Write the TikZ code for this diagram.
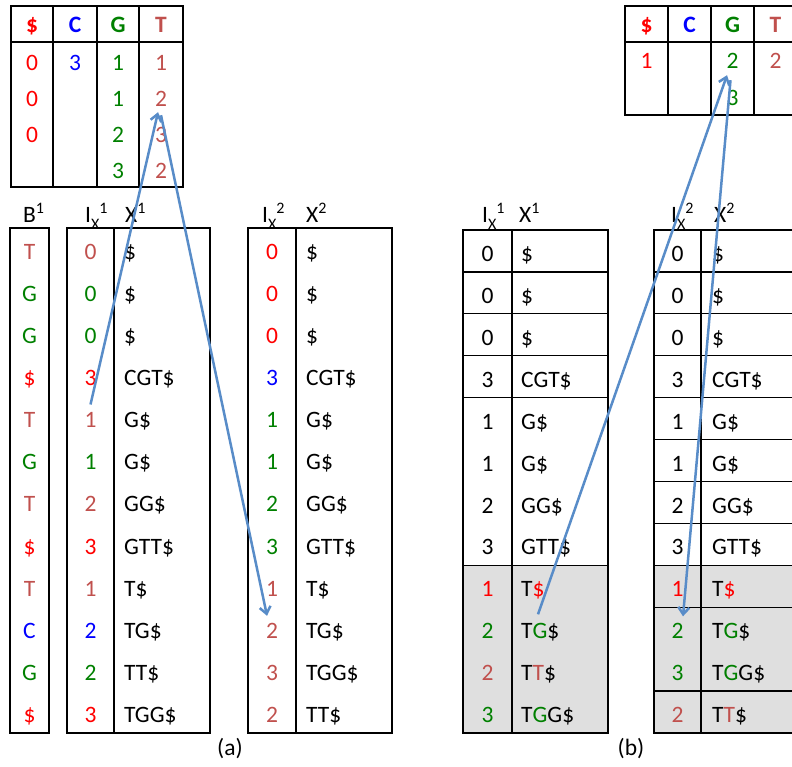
\documentclass[tikz,border=0pt]{standalone}
\usepackage{fontspec}
\setmainfont{Carlito}
\newfontfamily\cellfont{Carlito}
\usetikzlibrary{arrows.meta,calc}
\definecolor{cR}{RGB}{255,0,0}
\definecolor{cB}{RGB}{0,0,255}
\definecolor{cG}{RGB}{0,128,0}
\definecolor{cT}{RGB}{192,80,77}
\definecolor{arrowblue}{RGB}{88,140,200}
\definecolor{cellgray}{RGB}{223,223,223}
\newcommand{\smallpart}[1]{{\fontsize{16pt}{16pt}\selectfont #1}}
\newcommand{\lblIX}[1]{I\raisebox{-0.28em}{\smallpart{X}}\raisebox{0.42em}{\smallpart{#1}}}
\newcommand{\lblsup}[2]{#1\raisebox{0.42em}{\smallpart{#2}}}
\begin{document}
\begin{tikzpicture}[x=1pt,y=-1pt,
  cell/.style={anchor=base,inner sep=0pt,font=\cellfont\fontsize{23.5pt}{28pt}\selectfont},
  lcell/.style={cell,anchor=base west},
  hdr/.style={cell,font=\cellfont\fontsize{23.5pt}{28pt}\selectfont\bfseries},
  frame/.style={draw=black,line width=1.3pt},
  arr/.style={draw=arrowblue,line width=2.5pt,-{Straight Barb[length=7pt,width=11pt]}},
]
\useasboundingbox (0,0) rectangle (792,767);

% ---------- top-left count table ----------
\draw[frame] (11,6) rectangle (183,187);
\draw[frame] (11,42) -- (183,42);
\draw[frame] (53,6) -- (53,187) (97,6) -- (97,187) (139,6) -- (139,187);
\node[hdr,text=cR] (tlHd) at (32,33) {\$};
\node[hdr,text=cB] (tlHc) at (75,33) {C};
\node[hdr,text=cG] (tlHg) at (118,33) {G};
\node[hdr,text=cT] (tlHt) at (161,33) {T};
\foreach \v [count=\i] in {0,0,0} \node[cell,text=cR] (tlD\i) at (32,{35+36*\i}) {\v};
\node[cell,text=cB] (tlC1) at (75,71) {3};
\foreach \v [count=\i] in {1,1,2,3} \node[cell,text=cG] (tlG\i) at (118,{35+36*\i}) {\v};
\foreach \v [count=\i] in {1,2,3,2} \node[cell,text=cT] (tlT\i) at (161,{35+36*\i}) {\v};

% ---------- top-right count table ----------
\draw[frame] (800,6) -- (625,6) -- (625,115) -- (800,115);
\draw[frame] (625,42) -- (800,42);
\draw[frame] (668,6) -- (668,115) (711,6) -- (711,115) (754,6) -- (754,115);
\node[hdr,text=cR] (trHd) at (646.5,33) {\$};
\node[hdr,text=cB] (trHc) at (689.5,33) {C};
\node[hdr,text=cG] (trHg) at (732.5,33) {G};
\node[hdr,text=cT] (trHt) at (775.5,33) {T};
\node[cell,text=cR] (trD1) at (646.5,69) {1};
\node[cell,text=cG] (trG1) at (732.5,69) {2};
\node[cell,text=cG] (trG2) at (732.5,106) {3};
\node[cell,text=cT] (trT1) at (775.5,69) {2};

% ---------- (a) ----------
\node[lcell] (aLB) at (23,223) {\lblsup{B}{1}};
\node[lcell] (aLI1) at (85,223) {\lblIX{1}};
\node[lcell] (aLX1) at (125,223) {\lblsup{X}{1}};
\node[lcell] (aLI2) at (262,223) {\lblIX{2}};
\node[lcell] (aLX2) at (306,223) {\lblsup{X}{2}};

\draw[frame] (10,228) rectangle (49,733);
\draw[frame] (67,228) rectangle (210,733);
\draw[frame] (114,228) -- (114,733);
\draw[frame] (248,228) rectangle (392,733);
\draw[frame] (296,228) -- (296,733);

\foreach \b/\d/\c/\x [count=\i from 0] in
  {T/0/cT/\$, G/0/cG/\$, G/0/cG/\$, \$/3/cR/CGT\$, T/1/cT/G\$, G/1/cG/G\$,
   T/2/cT/GG\$, \$/3/cR/GTT\$, T/1/cT/T\$, C/2/cB/TG\$, G/2/cG/TT\$, \$/3/cR/TGG\$}
{
  \node[cell,text=\c] (aB\i) at (29.5,{228+42.08*\i+31.5}) {\b};
  \node[cell,text=\c] (aI\i) at (90.5,{228+42.08*\i+31.5}) {\d};
  \node[lcell] (aX\i) at (124,{228+42.08*\i+31.5}) {\x};
}
\foreach \d/\c/\x [count=\i from 0] in
  {0/cR/\$, 0/cR/\$, 0/cR/\$, 3/cB/CGT\$, 1/cG/G\$, 1/cG/G\$,
   2/cG/GG\$, 3/cG/GTT\$, 1/cT/T\$, 2/cT/TG\$, 3/cT/TGG\$, 2/cT/TT\$}
{
  \node[cell,text=\c] (aJ\i) at (272,{228+42.08*\i+31.5}) {\d};
  \node[lcell] (aY\i) at (306,{228+42.08*\i+31.5}) {\x};
}
\node[cell] (capA) at (230,755) {(a)};

% ---------- (b) ----------
\node[lcell] (bLI1) at (482,223) {\lblIX{1}};
\node[lcell] (bLX1) at (519,223) {\lblsup{X}{1}};
\node[lcell] (bLI2) at (671,223) {\lblIX{2}};
\node[lcell] (bLX2) at (714,223) {\lblsup{X}{2}};

\fill[cellgray] (463,565.3) rectangle (608,733);
\fill[cellgray] (654,565.3) rectangle (800,733);

\draw[frame] (463,230) rectangle (608,733);
\draw[frame] (512,230) -- (512,733);
\foreach \k in {1,2,3,4,8} \draw[frame] (463,{230+41.917*\k}) -- (608,{230+41.917*\k});

\draw[frame] (800,230) -- (654,230) -- (654,733) -- (800,733);
\draw[frame] (701,230) -- (701,733);
\foreach \k in {1,2,3,4,5,6,7,8,9,11} \draw[frame] (654,{230+41.917*\k}) -- (800,{230+41.917*\k});

\foreach \d/\c/\x [count=\i from 0] in
  {0/black/\$, 0/black/\$, 0/black/\$, 3/black/CGT\$, 1/black/G\$, 1/black/G\$,
   2/black/GG\$, 3/black/GTT\$, 1/cR/{T\textcolor{cR}{\$}}, 2/cG/{T\textcolor{cG}{G}\$},
   2/cT/{T\textcolor{cT}{T}\$}, 3/cG/{T\textcolor{cG}{G}G\$}}
{
  \node[cell,text=\c] (bI\i) at (487.5,{230+41.917*\i+31.5}) {\d};
  \node[lcell] (bX\i) at (521,{230+41.917*\i+31.5}) {\x};
}
\foreach \d/\c/\x [count=\i from 0] in
  {0/black/\$, 0/black/\$, 0/black/\$, 3/black/CGT\$, 1/black/G\$, 1/black/G\$,
   2/black/GG\$, 3/black/GTT\$, 1/cR/{T\textcolor{cR}{\$}}, 2/cG/{T\textcolor{cG}{G}\$},
   3/cG/{T\textcolor{cG}{G}G\$}, 2/cT/{T\textcolor{cT}{T}\$}}
{
  \node[cell,text=\c] (bJ\i) at (677.5,{230+41.917*\i+31.5}) {\d};
  \node[lcell] (bY\i) at (712,{230+41.917*\i+31.5}) {\x};
}
\node[cell] (capB) at (631,755) {(b)};

% ---------- arrows ----------
\draw[arr] ([yshift=8pt]aI4.north) -- ([shift={(-3,5)}]tlT2.south);
\draw[arr] ([shift={(0,8)}]tlT2.south) -- ([shift={(-5,-7)}]aJ9.north);
\draw[arr] ($(bX9.north west)+(17,-9)$) -- ([shift={(-5.5,6)}]trG1.south);
\draw[arr] ([shift={(-2,11)}]trG1.south) -- ([shift={(5.5,-7)}]bJ9.north);
\end{tikzpicture}
\end{document}
